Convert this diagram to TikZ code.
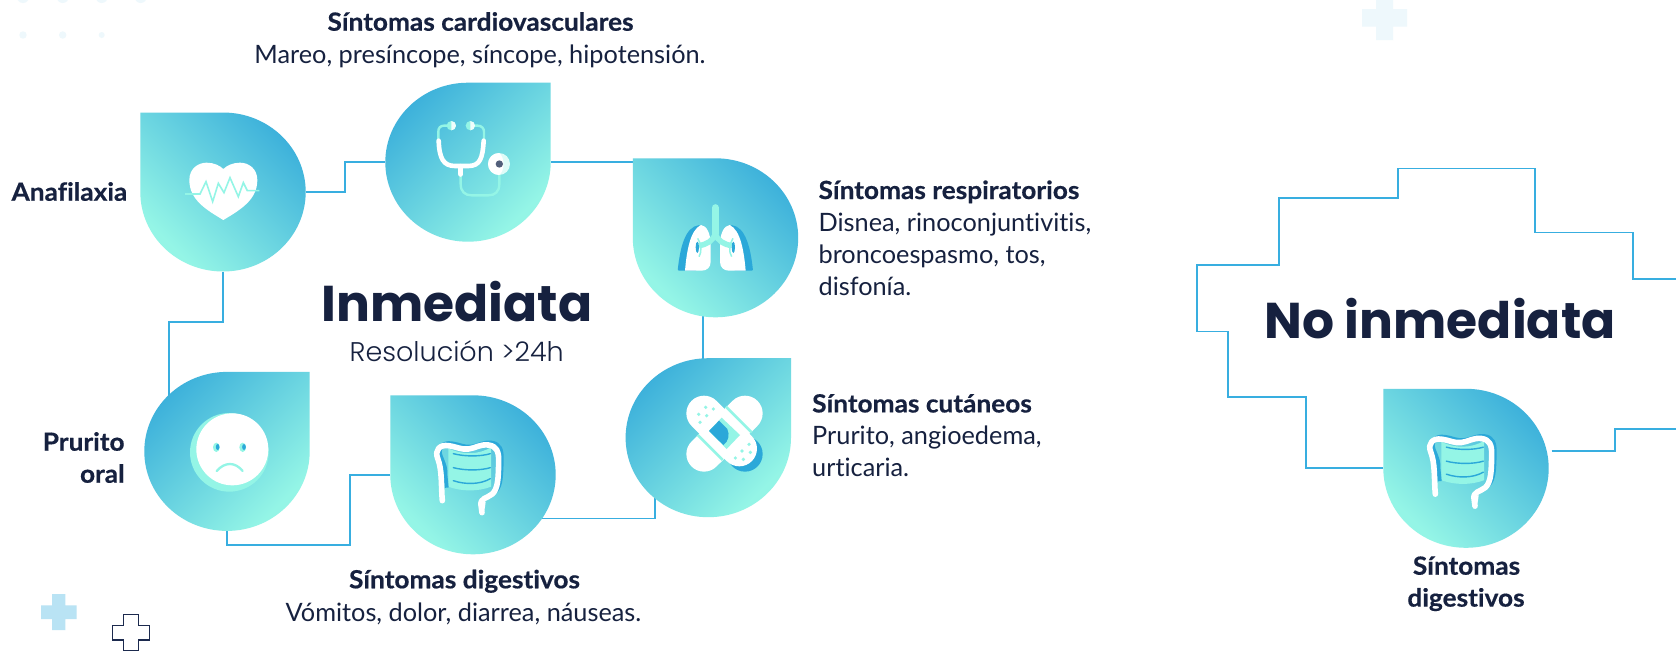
\documentclass[tikz,border=0pt]{standalone}
\usepackage{fontspec}
\setmainfont{Lato}[Ligatures=NoCommon,BoldFeatures={FakeStretch=1.05,FakeBold=0.5}]
\newfontfamily\poph{Poppins}
\newfontfamily\popr{Poppins Light}
\definecolor{ink}{HTML}{16213F}
\definecolor{dlight}{HTML}{94F5E6}
\definecolor{ddark}{HTML}{38ADDA}
\definecolor{wire}{HTML}{38AEE0}
\definecolor{iblue}{HTML}{2BA8D9}
\definecolor{imint}{HTML}{94F5E6}
\definecolor{pale}{HTML}{EEF8FC}
\definecolor{crossl}{HTML}{B9E3F4}
\definecolor{crossd}{HTML}{1C2A4E}
\definecolor{slate}{HTML}{525F7A}
\pgfdeclarehorizontalshading{dropshade}{100bp}{color(0bp)=(dlight);color(27bp)=(dlight);color(78bp)=(ddark);color(100bp)=(ddark)}
\tikzset{
  dropbox/.style={minimum width=165.4pt,minimum height=159pt,inner sep=0pt,outer sep=0pt},
  conn/.style={draw=wire,line width=1.8pt},
  head/.style={font=\fontsize{25}{30}\selectfont\bfseries,text=ink,inner sep=0pt},
  body/.style={font=\fontsize{25.3}{30}\selectfont,text=ink,inner sep=0pt},
  tl/.style={shading=dropshade,shading angle=45},
  tr/.style={shading=dropshade,shading angle=135},
  icon/.style={x=0.33333pt,y=-0.33333pt}
}
\newcommand{\dropTL}[1]{\path[tl] (#1.north west) -- (#1.north) arc[start angle=-90,end angle=180,x radius=82.7,y radius=79.5] -- cycle;}
\newcommand{\dropTR}[1]{\path[tr] (#1.north east) -- (#1.north) arc[start angle=-90,end angle=-360,x radius=82.7,y radius=79.5] -- cycle;}
\newcommand{\gutpath}{(172,332) .. controls (168,290) and (172,240) .. (158,205) .. controls (148,180) and (165,163) .. (190,167) .. controls (215,170) and (230,180) .. (250,177) .. controls (270,175) and (285,162) .. (310,165) .. controls (335,168) and (342,185) .. (341,215) .. controls (340,260) and (340,295) .. (322,312) .. controls (305,325) and (285,325) .. (288,345) -- (291,368)}
\newcommand{\gut}[2]{\begin{scope}[shift={(#1,#2)},icon]
 \fill[imint] (190,175) .. controls (230,195) and (280,195) .. (318,172) -- (318,290) .. controls (280,305) and (230,305) .. (190,290) -- cycle;
 \draw[iblue,line width=1.4pt,line cap=round] (205,191) .. controls (240,200) and (285,200) .. (316,191);
 \draw[iblue,line width=1.4pt,line cap=round] (205,233) .. controls (240,242) and (285,242) .. (316,233);
 \draw[iblue,line width=1.4pt,line cap=round] (205,272) .. controls (240,284) and (285,284) .. (316,266);
 \begin{scope}[shift={(9,-7)}]\draw[iblue,line width=4pt,line join=round] (176,300) -- (172,260) .. controls (172,240) and (172,240) .. (158,205) .. controls (148,180) and (165,163) .. (190,167) .. controls (215,170) and (230,180) .. (250,177) .. controls (270,175) and (285,162) .. (310,165) .. controls (335,168) and (342,185) .. (341,215) .. controls (340,260) and (340,295) .. (322,312);\end{scope}
 \draw[white,line width=5.6pt,line cap=round,line join=round] \gutpath;
 \fill[white] (282,340) .. controls (282,360) and (285,370) .. (291,370) .. controls (297,370) and (300,355) .. (302,335) -- cycle;
\end{scope}}
\begin{document}
\begin{tikzpicture}[x=1pt,y=-1pt]
\useasboundingbox (0,0) rectangle (1676,651);
\fill[white] (0,0) rectangle (1676,651);
\clip (0,0) rectangle (1676,651);
% decorative
\foreach \px in {23,62.7,101.7,140.7}{\fill[pale] (\px,-3) circle[radius=6];}
\foreach \px/\r in {23/3.7,62.7/3.7,101.7/3}{\fill[pale] (\px,35) circle[radius=\r];}
\fill[pale] (1376,0) -- (1393,0) -- (1393,9) -- (1407,9) -- (1407,26.5) -- (1393,26.5) -- (1393,40) -- (1376,40) -- (1376,26.5) -- (1362,26.5) -- (1362,9) -- (1376,9) -- cycle;
\fill[crossl] (52,594) -- (65.3,594) -- (65.3,605.3) -- (76.7,605.3) -- (76.7,619) -- (65.3,619) -- (65.3,630) -- (52,630) -- (52,619) -- (41,619) -- (41,605.3) -- (52,605.3) -- cycle;
\draw[crossd,line width=1.5pt] (123.7,614.5) -- (138.3,614.5) -- (138.3,625.3) -- (149.3,625.3) -- (149.3,640) -- (138.3,640) -- (138.3,650.5) -- (123.7,650.5) -- (123.7,640) -- (112.3,640) -- (112.3,625.3) -- (123.7,625.3) -- cycle;
% anchors
\node[dropbox] (d1) at (223,192) {};
\node[dropbox] (d2) at (468,162.2) {};
\node[dropbox] (d3) at (715.5,237.8) {};
\node[dropbox] (d4) at (708.3,437.7) {};
\node[dropbox] (d5) at (473,474.8) {};
\node[dropbox] (d6) at (227,451.4) {};
\node[dropbox] (d7) at (1466,468.3) {};
\coordinate (j1) at (345,177);
\coordinate (j3) at (703.3,340);
\coordinate (j4) at (655,518.5);
\coordinate (j5) at (349.8,545.3);
\coordinate (j6) at (168.7,321.7);
\coordinate (s7) at (1551.5,451);
\coordinate (e7) at (1676,429);
\coordinate (e8) at (1676,279);
% connectors
\draw[conn] (d1.east) -| (j1) |- (d2.west);
\draw[conn] (d2.east) -- (d3.west |- d2.east);
\draw[conn] (j3 |- d3.center) -- (j3 |- d4.center);
\draw[conn] (d5.center |- j4) -- (j4) -- (j4 |- d4.center);
\draw[conn] (d5.west) -| (j5) -| (d6.south);
\draw[conn] (d1.south) |- (j6) -- (j6 |- d6.center);
\draw[conn,line join=miter] (d7.west) -- (1305.6,468.3) -- (1305.6,397) -- (1227.7,397) -- (1227.7,331.5) -- (1197.3,331.5) -- (1197.3,264.7) -- (1279,264.7) -- (1279,198.3) -- (1397.9,198.3) -- (1397.9,168.5) -- (1535,168.5) -- (1535,232.4) -- (1633,232.4) -- (1633,279) -- (e8);
\draw[conn] (s7) -- (1615,451) -- (1615,429) -- (e7);
% drops
\dropTL{d1}\dropTR{d2}\dropTL{d3}\dropTR{d4}\dropTL{d5}\dropTR{d6}\dropTL{d7}
% heart
\begin{scope}[shift={(130,100)},icon]
 \fill[white] (280,360) .. controls (230,330) and (178,300) .. (178,240) .. controls (178,205) and (205,188) .. (230,188) .. controls (252,188) and (270,197) .. (280,207) .. controls (290,197) and (308,188) .. (330,188) .. controls (355,188) and (382,205) .. (382,240) .. controls (382,300) and (330,330) .. (280,360) -- cycle;
 \draw[imint,line width=1.6pt] (165,282) -- (210,282) -- (228,245) -- (248,305) -- (265,250) -- (282,278) -- (300,233) -- (325,290) -- (340,248) -- (352,272) -- (388,272);
\end{scope}
% stethoscope
\begin{scope}[shift={(380,80)},icon]
 \draw[imint,line width=2.4pt] (212,137) -- (192,137) .. controls (180,137) and (175,145) .. (175,155) -- (175,182);
 \draw[imint,line width=2.4pt] (273,137) -- (293,137) .. controls (305,137) and (312,145) .. (312,155) -- (312,182);
 \fill[imint] (214,137) circle[radius=14];
 \fill[imint] (271,137) circle[radius=14];
 \fill[white!85!imint] (214,123) arc[start angle=-90,end angle=90,radius=14] -- cycle;
 \fill[white!85!imint] (271,151) arc[start angle=90,end angle=-90,radius=14] -- cycle;
 \draw[imint,line width=2.4pt] (242,285) -- (242,312) .. controls (242,335) and (255,346) .. (275,346) -- (325,346) .. controls (345,346) and (358,335) .. (358,312) -- (358,280);
 \draw[white,line width=4.6pt,line cap=round] (176,182) .. controls (178,235) and (190,258) .. (225,258) -- (265,258) .. controls (300,258) and (308,235) .. (311,182);
 \draw[white,line width=5.6pt,line cap=round] (242,260) -- (242,282);
 \fill[white!70!imint] (357,252) circle[radius=33];
 \fill[white] (357,219) arc[start angle=-90,end angle=-270,radius=33] .. controls (375,275) and (375,230) .. cycle;
 \fill[slate] (358,252) circle[radius=11];
\end{scope}
% lungs
\begin{scope}[shift={(625,155)},icon]
 \fill[iblue,rounded corners=1pt] (158,347) .. controls (165,280) and (180,215) .. (225,210) -- (215,347) -- cycle;
 \fill[iblue,rounded corners=1pt] (384,347) .. controls (377,280) and (362,215) .. (317,210) -- (327,347) -- cycle;
 \fill[white] (180,347) .. controls (185,290) and (195,225) .. (228,210) .. controls (245,212) and (257,235) .. (257,270) -- (257,320) .. controls (257,338) and (245,347) .. (230,347) -- cycle;
 \fill[white] (362,347) .. controls (357,290) and (347,225) .. (314,210) .. controls (297,212) and (285,235) .. (285,270) -- (285,320) .. controls (285,338) and (297,347) .. (312,347) -- cycle;
 \draw[imint,line width=7pt,line cap=round] (271,158) -- (271,235);
 \draw[imint,line width=5.5pt] (271,235) .. controls (265,258) and (245,268) .. (222,272);
 \draw[imint,line width=5.5pt] (271,235) .. controls (277,258) and (297,268) .. (320,272);
 \draw[imint,line width=1.5pt] (218,250) .. controls (228,265) and (232,290) .. (222,305);
 \draw[imint,line width=1.5pt] (324,250) .. controls (314,265) and (310,290) .. (320,305);
 \fill[iblue] (217,277) ellipse[x radius=5,y radius=17];
 \fill[iblue] (325,277) ellipse[x radius=5,y radius=17];
\end{scope}
% bandage
\begin{scope}[shift={(620,355)},icon]
 \fill[iblue] (375,297) circle[radius=53];
 \draw[white,line width=35.3pt,line cap=round] (375,175) -- (252,297);
 \draw[imint,line width=2.7pt] (318,155) -- (395,232);
 \draw[imint,line width=2.7pt] (233,240) -- (308,315);
 \draw[white,line width=35.3pt,line cap=round] (252,175) -- (358,281);
 \fill[imint] (305,188) -- (360,240) -- (320,282) -- (267,228) -- cycle;
 \fill[iblue] (297,197) -- (267,228) -- (310,270) .. controls (325,260) and (330,240) .. (322,222) -- cycle;
 \foreach \p in {(257,157),(280,162),(236,178),(260,182),(240,202),(387,268),(366,288),(391,292),(346,309),(370,313)}{\fill[imint] \p circle[radius=5.5];}
\end{scope}
% intestines
\gut{385}{390}
\gut{1378}{383.5}
% sad face
\begin{scope}[shift={(140,365)},icon]
 \fill[imint] (268,262) circle[radius=118];
 \fill[white] (277,253) circle[radius=108];
 \fill[imint] (229,247) ellipse[x radius=10,y radius=14];
 \fill[imint] (308,247) ellipse[x radius=10,y radius=14];
 \fill[iblue] (233,246) ellipse[x radius=5.5,y radius=9];
 \fill[iblue] (312,246) ellipse[x radius=5.5,y radius=9];
 \draw[imint,line width=2.3pt,line cap=round] (230,318) .. controls (255,290) and (285,290) .. (308,318);
\end{scope}
% texts
\node[head,anchor=base] (t1) at (480.5,30.7) {Síntomas cardiovasculares};
\node[body,anchor=base] (t2) at (480,63) {Mareo, presíncope, síncope, hipotensión.};
\node[head,anchor=base east] (t3) at (127.5,200.7) {Anafilaxia};
\node[head,anchor=base east] (t4) at (124.8,450.7) {Prurito};
\node[head,anchor=base east] (t5) at (124.8,482.7) {oral};
\node[head,anchor=base west] (t6) at (818.4,199) {Síntomas respiratorios};
\node[body,anchor=base west] (t7) at (818.4,231.5) {Disnea, rinoconjuntivitis,};
\node[body,anchor=base west] (t8) at (818.4,263.5) {broncoespasmo, tos,};
\node[body,anchor=base west] (t9) at (818.4,295.4) {disfonía.};
\node[head,anchor=base west] (t10) at (812,412.4) {Síntomas cutáneos};
\node[body,anchor=base west] (t11) at (812,444.8) {Prurito, angioedema,};
\node[body,anchor=base west] (t12) at (812,476.3) {urticaria.};
\node[head,anchor=base] (t13) at (464.5,588.3) {Síntomas digestivos};
\node[body,anchor=base] (t14) at (463.5,621) {Vómitos, dolor, diarrea, náuseas.};
\node[head,anchor=base] (t15) at (1466.5,574.7) {Síntomas};
\node[head,anchor=base] (t16) at (1466,606.6) {digestivos};
\node[font=\fontsize{50.3}{60}\poph\bfseries,text=ink,anchor=base,inner sep=0pt] (t17) at (457,321.7) {Inmediata};
\node[font=\fontsize{27}{32}\popr,text=ink,anchor=base,inner sep=0pt] (t18) at (456.7,361) {Resolución >24h};
\node[font=\fontsize{50.3}{60}\poph\bfseries,text=ink,anchor=base,inner sep=0pt] (t19) at (1440,338) {No inmediata};
\end{tikzpicture}
\end{document}
